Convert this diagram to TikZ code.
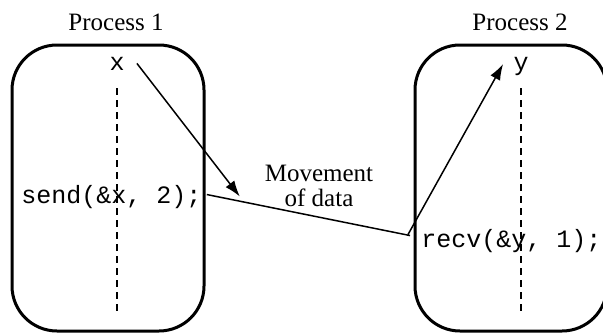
\documentclass[tikz,border=0pt]{standalone}
\usepackage{fontspec}
\setmainfont{Liberation Serif}
\setmonofont{Liberation Mono}
\usetikzlibrary{arrows.meta}

\begin{document}
\begin{tikzpicture}[x=.5pt,y=-.5pt,
  proc/.style={draw,line width=1.5pt,rounded corners=22.5pt,minimum width=96pt,minimum height=143pt,inner sep=0pt},
  code/.style={inner sep=0pt,font=\ttfamily\fontsize{12.5}{14}\selectfont},
  lbl/.style={inner sep=0pt,font=\fontsize{12.5}{12.5}\selectfont},
  flow/.style={line width=.75pt,-{Latex[length=8pt,width=5.5pt]}},
  timeline/.style={line width=1.3pt,dash pattern=on 3.5pt off 2.5pt}]
\path[use as bounding box] (0,0) rectangle (603,332);
\clip (0,0) rectangle (603,332);
% the two processes
\node[proc] (proc1) at (108,188) {};
\node[proc] (proc2) at (511,188) {};
\node[lbl,anchor=base] (title1) at (116,30) {Process 1};
\node[lbl,anchor=base] (title2) at (520,30) {Process 2};
\draw[timeline] (117,88)--(117,315);
\draw[timeline] (521,88)--(521,315);
\node[code,anchor=base] (varx) at (117,70) {x};
\node[code,anchor=base] (vary) at (521,70) {y};
\node[code,anchor=base west] (send) at (21,203) {send(\&x, 2);};
\node[code,anchor=base west] (recv) at (421,247) {recv(\&y, 1);};
\node[lbl,align=center] (move) at (319,186) {Movement\\of data};
% messages
\draw[flow] ([shift={(12,0)}]varx.east)--([xshift=19]send.east);
\draw[line width=.75pt] ([shift={(5,-2)}]send.east)--([shift={(-11,-5)}]recv.west);
\draw[flow] ([shift={(-13,-6)}]recv.west)--([shift={(-10,-2)}]vary.west);
\end{tikzpicture}
\end{document}
